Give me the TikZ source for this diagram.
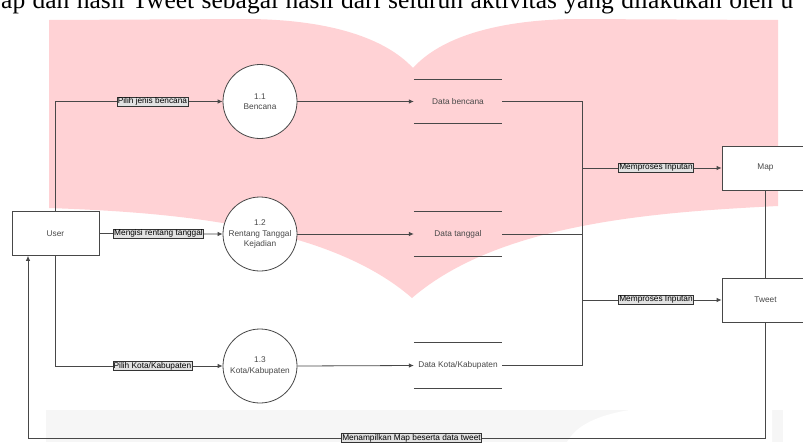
\documentclass[tikz,border=0pt]{standalone}
\usepackage{fontspec}
\setmainfont{Liberation Serif}
\setsansfont{Liberation Sans}
\usetikzlibrary{arrows.meta}
\definecolor{wmpink}{RGB}{255,210,213}
\definecolor{wmgray}{RGB}{246,246,246}
\definecolor{ink}{RGB}{72,72,72}
\definecolor{labelfill}{RGB}{226,226,226}

\begin{document}
\begin{tikzpicture}[x=1pt,y=-1pt,
  every node/.style={font=\sffamily\fontsize{8.3}{10.5}\selectfont, text=ink},
  entity/.style={draw=ink, fill=white, line width=0.8pt, minimum width=87pt,
    minimum height=44pt, inner sep=0pt},
  proc/.style={draw=ink, fill=white, circle, line width=0.8pt, minimum size=74pt,
    inner sep=0pt, align=center},
  store/.style={minimum width=88pt, minimum height=44pt, inner sep=0pt},
  storeline/.style={draw=ink, line width=0.8pt},
  link/.style={draw=ink, line width=0.8pt},
  flow/.style={link, -{Latex[length=5pt,width=4.5pt]}},
  elabel/.style={draw=black!80, fill=labelfill, line width=0.5pt, inner sep=0.8pt,
    text=black}]

\useasboundingbox (0,0) rectangle (803,442);
\fill[white] (0,0) rectangle (803,442);

% background emblem
\fill[wmpink] (49,20) -- (250,19) .. controls (330,20) and (385,38) .. (413,68)
  .. controls (440,38) and (495,20) .. (575,19) -- (778,20) -- (778,206)
  .. controls (660,212) and (500,222) .. (412,298)
  .. controls (325,222) and (160,212) .. (49,208) -- cycle;
\fill[wmgray] (46,410) rectangle (783,442);
\fill[white] (567,442) .. controls (580,418) and (620,407) .. (680,406)
  -- (772,406) -- (772,442) -- cycle;

% running text line of the page
\node[anchor=base west, inner sep=0pt, text=black,
  font=\rmfamily\fontsize{25.5}{30}\selectfont] (pagetext) at (1,8)
  {\makebox[792pt][s]{ap dan hasil Tweet sebagai hasil dari seluruh aktivitas yang dilakukan oleh u}};

% external entities
\node[entity] (user) at (55.5,233.5) {User};
\node[entity] (map) at (765.5,168) {Map};
\node[entity] (tweet) at (765.5,300) {Tweet};

% processes
\node[proc] (p1) at (260,101.5) {1.1\\Bencana};
\node[proc] (p2) at (260,234) {1.2\\Rentang Tanggal\\Kejadian};
\node[proc] (p3) at (260,366) {1.3\\Kota/Kabupaten};

% data stores
\node[store, minimum height=43pt] (s1) at (458,101.5) {Data bencana};
\node[store] (s2) at (458,234) {Data tanggal};
\node[store, minimum height=45pt] (s3) at (458,365.5) {Data Kota/Kabupaten};
\foreach \s in {s1,s2,s3}{
  \draw[storeline] (\s.north west) -- (\s.north east);
  \draw[storeline] (\s.south west) -- (\s.south east);
}

% user input flows
\draw[flow] (user.north) |- (p1.west) node[elabel, pos=0.79] {Pilih jenis bencana};
\draw[flow] (user.east) -- (p2.west) node[elabel, pos=0.48] {Mengisi rentang tanggal};
\draw[flow] (user.south) |- (p3.west) node[elabel, pos=0.79] {Pilih Kota/Kabupaten};

% process to store
\draw[flow] (p1.east) -- (s1.west);
\draw[flow] (p2.east) -- (s2.west);
\draw[flow] (p3.east) -- (s3.west);

% collecting bus
\coordinate (b1) at (582,101.5);
\coordinate (b3) at (582,365.5);
\coordinate (bm) at (582,168);
\coordinate (bt) at (582,300);
\draw[link] (s1.east) -- (b1) -- (b3) -- (s3.east);
\draw[link] (s2.east) -- (s2.east -| b1);
\draw[flow] (bm) -- (map.west) node[elabel, pos=0.53] {Memproses Inputan};
\draw[flow] (bt) -- (tweet.west) node[elabel, pos=0.53] {Memproses Inputan};

% outputs back to the user
\draw[link] (map.south) -- (tweet.north);
\coordinate (ret) at (28,438);
\draw[flow] (tweet.south) |- (ret)
  node[elabel, pos=0.74] {Menampilkan Map beserta data tweet}
  -- (ret |- user.south);
\end{tikzpicture}
\end{document}
